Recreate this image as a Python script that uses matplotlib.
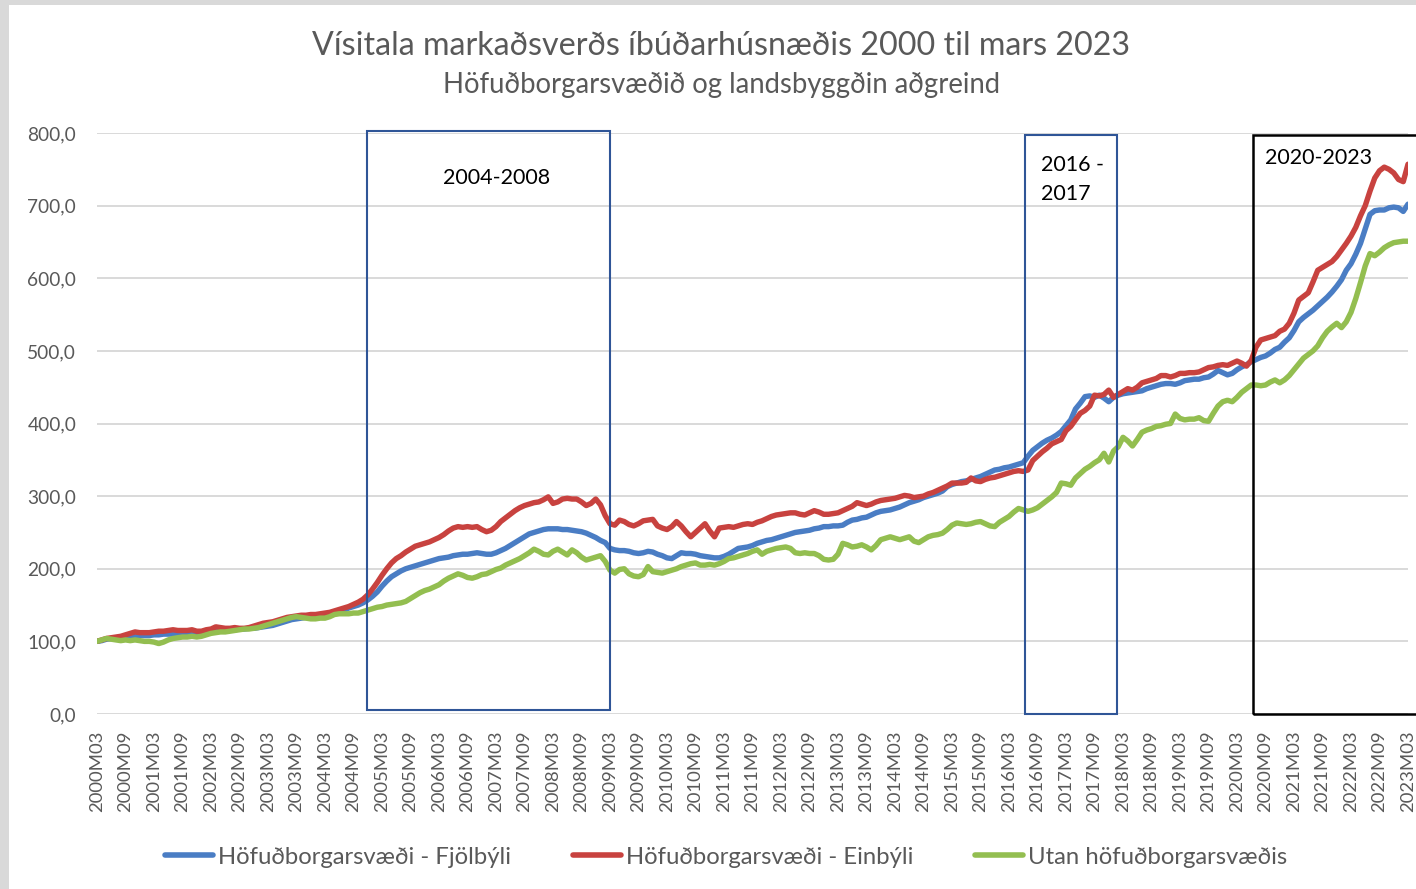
import matplotlib
matplotlib.use("Agg")
import matplotlib.pyplot as plt
import numpy as np
import pandas as pd
from matplotlib.patches import Rectangle

plt.rcParams['font.family'] = ['Lato', 'DejaVu Sans']

# ---- categories (monthly, 2000M03 .. 2023M03) ----
periods = pd.period_range('2000-03', '2023-03', freq='M')
categories = [f"{p.year}M{p.month:02d}" for p in periods]

# ---- series values ----
fjolbyli = [
    100, 101, 103, 104, 105, 106, 106, 107, 107, 108,                  # 2000
    108, 108, 109, 109, 110, 110, 110, 111, 111, 111, 112, 112,        # 2001
    112, 113, 113, 114, 114, 115, 116, 116, 117, 117, 118, 118,        # 2002
    119, 120, 121, 122, 124, 126, 128, 130, 131, 132, 133, 133,        # 2003
    134, 135, 136, 137, 139, 141, 143, 146, 148, 150, 153, 157,        # 2004
    162, 168, 176, 183, 189, 193, 197, 200, 202, 204, 206, 208,        # 2005
    210, 212, 214, 215, 216, 218, 219, 220, 220, 221, 222, 221,        # 2006
    220, 220, 222, 225, 228, 232, 236, 240, 244, 248, 250, 252,        # 2007
    254, 255, 255, 255, 254, 254, 253, 252, 251, 249, 246, 243,        # 2008
    239, 236, 228, 226, 225, 225, 224, 222, 221, 222, 224, 223,        # 2009
    220, 218, 215, 214, 218, 222, 221, 221, 220, 218, 217, 216,        # 2010
    215, 215, 217, 220, 224, 228, 229, 230, 232, 235, 237, 239,        # 2011
    240, 242, 244, 246, 248, 250, 251, 252, 253, 255, 256, 258,        # 2012
    258, 259, 259, 260, 264, 267, 268, 270, 271, 274, 277, 279,        # 2013
    280, 281, 283, 285, 288, 291, 293, 295, 298, 300, 302, 304,        # 2014
    307, 313, 316, 318, 320, 321, 323, 325, 327, 330, 333, 336,        # 2015
    337, 339, 340, 342, 344, 346, 355, 363, 368, 373, 377, 380,        # 2016
    384, 389, 397, 405, 420, 428, 437, 438, 436, 439, 435, 430,        # 2017
    436, 439, 441, 442, 443, 444, 445, 448, 450, 452, 454, 455,        # 2018
    455, 454, 456, 459, 460, 461, 461, 463, 464, 468, 473, 470,        # 2019
    467, 469, 474, 478, 481, 485, 488, 491, 493, 497, 502, 505,        # 2020
    512, 518, 528, 540, 546, 551, 556, 562, 568, 574, 581, 589,        # 2021
    598, 611, 620, 633, 648, 668, 688, 693, 694, 694, 697, 698,        # 2022
    697, 692, 702,                                                     # 2023
]

einbyli = [
    100, 102, 104, 105, 106, 107, 109, 111, 113, 112,                  # 2000
    112, 112, 113, 114, 114, 115, 116, 115, 115, 115, 116, 114,        # 2001
    114, 116, 117, 120, 119, 118, 118, 119, 118, 118, 119, 121,        # 2002
    123, 125, 126, 127, 129, 131, 133, 134, 135, 136, 136, 137,        # 2003
    137, 138, 139, 140, 142, 144, 146, 148, 151, 154, 158, 164,        # 2004
    172, 181, 191, 200, 208, 214, 218, 223, 227, 231, 233, 235,        # 2005
    237, 240, 243, 247, 252, 256, 258, 257, 258, 257, 258, 254,        # 2006
    251, 253, 258, 265, 270, 275, 280, 284, 287, 289, 291, 292,        # 2007
    295, 299, 290, 292, 296, 297, 296, 296, 292, 287, 290, 296,        # 2008
    288, 273, 262, 260, 267, 265, 261, 259, 262, 266, 267, 268,        # 2009
    259, 256, 254, 258, 265, 259, 251, 244, 250, 256, 262, 252,        # 2010
    244, 256, 257, 258, 257, 259, 261, 262, 261, 264, 266, 269,        # 2011
    272, 274, 275, 276, 277, 277, 275, 274, 277, 280, 278, 275,        # 2012
    275, 276, 277, 280, 283, 286, 291, 289, 287, 289, 292, 294,        # 2013
    295, 296, 297, 299, 301, 300, 298, 299, 300, 303, 305, 308,        # 2014
    311, 314, 318, 318, 318, 319, 325, 321, 320, 323, 325, 326,        # 2015
    328, 330, 332, 334, 335, 334, 336, 349, 355, 361, 366, 372,        # 2016
    375, 378, 390, 396, 405, 414, 418, 424, 439, 438, 440, 446,        # 2017
    436, 440, 444, 448, 446, 450, 456, 458, 460, 462, 466, 466,        # 2018
    464, 466, 469, 469, 470, 470, 471, 474, 477, 478, 480, 481,        # 2019
    480, 483, 486, 483, 479, 487, 505, 515, 517, 519, 521, 527,        # 2020
    530, 538, 552, 570, 575, 580, 595, 611, 615, 619, 623, 630,        # 2021
    639, 648, 658, 670, 686, 700, 720, 738, 748, 753, 750, 745,        # 2022
    736, 733, 757,                                                     # 2023
]

utan = [
    100, 102, 104, 103, 102, 101, 102, 101, 102, 101,                  # 2000
    100, 100, 99, 97, 99, 102, 104, 105, 106, 106, 107, 106,           # 2001
    107, 109, 111, 112, 113, 113, 114, 115, 116, 117, 117, 118,        # 2002
    119, 121, 123, 125, 127, 129, 131, 133, 134, 133, 132, 131,        # 2003
    131, 132, 132, 134, 137, 138, 138, 138, 139, 139, 141, 143,        # 2004
    145, 147, 148, 150, 151, 152, 153, 155, 159, 163, 167, 170,        # 2005
    172, 175, 178, 183, 187, 190, 193, 191, 188, 187, 189, 192,        # 2006
    193, 196, 199, 201, 205, 208, 211, 214, 218, 222, 227, 224,        # 2007
    220, 219, 224, 227, 223, 219, 226, 222, 216, 212, 214, 216,        # 2008
    218, 210, 198, 194, 199, 200, 193, 190, 189, 192, 203, 196,        # 2009
    195, 194, 196, 198, 200, 203, 205, 207, 208, 205, 205, 206,        # 2010
    205, 207, 210, 214, 215, 217, 219, 221, 224, 226, 220, 224,        # 2011
    226, 228, 229, 230, 228, 222, 221, 222, 221, 221, 218, 213,        # 2012
    212, 213, 220, 235, 233, 230, 231, 233, 230, 226, 232, 240,        # 2013
    242, 244, 242, 240, 242, 244, 238, 236, 240, 244, 246, 247,        # 2014
    249, 254, 260, 263, 262, 261, 262, 264, 265, 262, 259, 258,        # 2015
    264, 268, 272, 278, 283, 281, 279, 281, 284, 289, 294, 299,        # 2016
    305, 318, 317, 315, 325, 331, 337, 341, 346, 350, 359, 347,        # 2017
    362, 368, 381, 376, 369, 378, 388, 391, 393, 396, 397, 399,        # 2018
    400, 413, 407, 405, 406, 406, 408, 404, 403, 414, 424, 430,        # 2019
    432, 430, 436, 443, 448, 453, 453, 452, 453, 457, 460, 456,        # 2020
    460, 466, 474, 482, 490, 495, 500, 507, 518, 527, 533, 538,        # 2021
    532, 540, 553, 572, 594, 617, 634, 631, 636, 642, 646, 649,        # 2022
    650, 651, 651,                                                     # 2023
]

series_names = ["Höfuðborgarsvæði - Fjölbýli",
                "Höfuðborgarsvæði - Einbýli",
                "Utan höfuðborgarsvæðis"]
series_colors = ["#4A7DC4", "#C8423F", "#93BE50"]

# highlighted periods: (label, start category, end category, colour)
periods_boxes = [
    ("2004-2008", "2004M11", "2009M02", "#2F5597"),
    ("2016 -\n2017", "2016M06", "2018M01", "#2F5597"),
    ("2020-2023", "2020M06", "2023M03", "#000000"),
]

title = "Vísitala markaðsverðs íbúðarhúsnæðis 2000 til mars 2023"
subtitle = "Höfuðborgarsvæðið og landsbyggðin aðgreind"
y_ticks = [0, 100, 200, 300, 400, 500, 600, 700, 800]

# ---- figure ----
W, H = 1416, 889
fig = plt.figure(figsize=(W / 100, H / 100), dpi=100)
fig.patch.set_facecolor("white")
# grey screenshot frame on left and top
fig.add_artist(Rectangle((0, 0), 9 / W, 1, transform=fig.transFigure,
                         facecolor="#D9D9D9", edgecolor="none"))
fig.add_artist(Rectangle((0, 1 - 5 / H), 1, 5 / H, transform=fig.transFigure,
                         facecolor="#D9D9D9", edgecolor="none"))

left_px, right_px, top_px, bottom_px = 97, 1408, 133, 714
ax = fig.add_axes([left_px / W, 1 - bottom_px / H,
                   (right_px - left_px) / W, (bottom_px - top_px) / H])

x = np.arange(len(categories))
for vals, name, col in zip([fjolbyli, einbyli, utan], series_names, series_colors):
    ax.plot(x, vals, color=col, lw=3.9, label=name, solid_joinstyle="round",
            solid_capstyle="round", zorder=3)

ax.set_xlim(0, len(categories) - 1)
ax.set_ylim(0, 800)
ax.set_yticks(y_ticks)
ax.set_yticklabels([f"{v:.1f}".replace(".", ",") for v in y_ticks])
ax.set_xticks(x[::6])
ax.set_xticklabels(categories[::6], rotation=90)
ax.grid(axis="y", color="#D9D9D9", lw=1.4, zorder=0)
ax.set_axisbelow(True)
for s in ax.spines.values():
    s.set_visible(False)
ax.tick_params(axis="both", length=0, colors="#595959")
ax.tick_params(axis="y", labelsize=13.8, pad=15)
ax.tick_params(axis="x", labelsize=13.3, pad=12)

# highlight boxes
px_per_cat = (right_px - left_px) / (len(categories) - 1)
for label, start, end, col in periods_boxes:
    i0 = categories.index(start)
    i1 = categories.index(end)
    if col == "#000000":
        x1 = len(categories) - 1 + (1420 - right_px) / px_per_cat
        y0, y1 = 0, 797
        lw = 1.8
        xs = i0 + 0.4
    elif label.startswith("2004"):
        x1 = i1 + 0.9
        y0, y1 = 5.5, 803
        lw = 1.5
        xs = i0 + 0.9
    else:
        x1 = i1 + 0.7
        y0, y1 = 0, 797
        lw = 1.5
        xs = i0 + 0.4
    ax.add_patch(Rectangle((xs, y0), x1 - xs, y1 - y0, fill=False,
                           edgecolor=col, lw=lw, clip_on=False, zorder=4))
    if label.startswith("2004"):
        ax.text((i0 + i1) / 2 + 2.6, 738, label, ha="center", va="center",
                fontsize=15.5, color="black")
    elif label.startswith("2016"):
        ax.text(i0 + 3.8, 736, label, ha="left", va="center",
                fontsize=15.5, color="black", linespacing=1.6)
    else:
        ax.text(i0 + 3, 766, label, ha="left", va="center",
                fontsize=15.5, color="black")

fig.text(721 / W, 1 - 46 / H, title, ha="center", va="center",
         fontsize=23.2, color="#595959")
fig.text(722 / W, 1 - 85 / H, subtitle, ha="center", va="center",
         fontsize=19.8, color="#595959")

leg = fig.legend(loc="center", bbox_to_anchor=(726 / W, 1 - 857 / H), ncol=3,
                 frameon=False, fontsize=17.2, handlelength=2.0,
                 handletextpad=0.2, columnspacing=2.6)
for t in leg.get_texts():
    t.set_color("#595959")
for h in leg.legend_handles:
    h.set_linewidth(4)

fig.savefig("out.png", dpi=100)
